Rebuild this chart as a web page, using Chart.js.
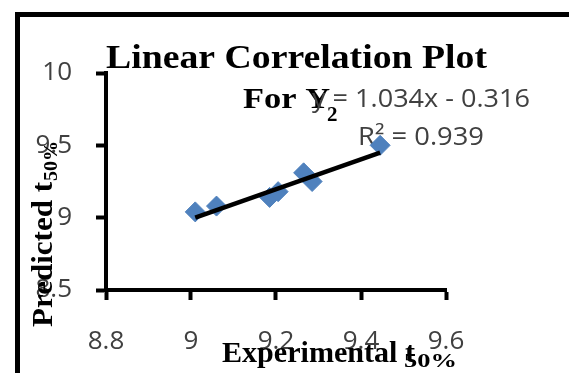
<!DOCTYPE html>
<html>
<head>
<meta charset="utf-8">
<script src="https://cdn.jsdelivr.net/npm/chart.js@4.4.1/dist/chart.umd.min.js"></script>
<style>
  html, body { margin: 0; padding: 0; background: #fff; }
  #wrap { width: 569px; height: 373px; }
</style>
</head>
<body>
<div id="wrap"><canvas id="corrChart" width="569" height="373"></canvas></div>
<script>
// values
const experimental = [9.01, 9.06, 9.185, 9.205, 9.265, 9.285, 9.445];
const predicted = [9.04, 9.08, 9.14, 9.18, 9.31, 9.25, 9.50];
const xTicks = [8.8, 9, 9.2, 9.4, 9.6];
const yTicks = [8.5, 9, 9.5, 10];
const slope = 1.034;
const intercept = -0.316;
const rSquared = 0.939;

const points = experimental.map((x, i) => ({ x: x, y: predicted[i] }));
const xMin = Math.min(...experimental);
const xMax = Math.max(...experimental);
const trend = [xMin, xMax].map(x => ({ x: x, y: slope * x + intercept }));

const serif = "'Liberation Serif', 'Times New Roman', serif";
const sans = "'Open Sans', 'DejaVu Sans', sans-serif";
const grey = '#404040';

// helper: text squeezed/stretched to a given width
function fitText(ctx, text, x, y, width) {
    const w = ctx.measureText(text).width;
    ctx.save();
    ctx.translate(x, y);
    ctx.scale(width / w, 1);
    ctx.fillText(text, 0, 0);
    ctx.restore();
}

const textPlugin = {
    id: 'textBits',
    beforeDraw(chart) {
        const ctx = chart.ctx;
        ctx.save();
        // outer frame (cut at the right and bottom)
        ctx.fillStyle = '#000';
        ctx.fillRect(15, 12, 5, 361);
        ctx.fillRect(15, 12, 554, 5);
        ctx.restore();
    },
    beforeDatasetsDraw(chart) {
        const ctx = chart.ctx;
        ctx.save();
        ctx.fillStyle = '#000';
        ctx.textBaseline = 'alphabetic';
        ctx.textAlign = 'left';
        ctx.font = 'bold 34px ' + serif;
        fitText(ctx, 'Linear Correlation Plot', 106, 68, 381);
        ctx.font = 'bold 30px ' + serif;
        fitText(ctx, 'For Y', 243, 108, 87);
        ctx.font = 'bold 21px ' + serif;
        ctx.fillText('2', 327, 121);

        // trendline label
        ctx.fillStyle = grey;
        ctx.font = '25px ' + sans;
        const eq = 'y = ' + slope.toFixed(3) + 'x - ' + Math.abs(intercept).toFixed(3);
        fitText(ctx, eq, 312, 107, 218);
        fitText(ctx, 'R² = ' + rSquared.toFixed(3), 358, 145, 126);
        ctx.restore();
    },
    afterDraw(chart) {
        const ctx = chart.ctx;
        ctx.save();
        ctx.fillStyle = '#000';
        ctx.textAlign = 'left';
        ctx.textBaseline = 'alphabetic';
        // x axis title
        ctx.font = 'bold 29px ' + serif;
        fitText(ctx, 'Experimental t', 222, 362, 193);
        ctx.font = 'bold 19px ' + serif;
        fitText(ctx, '50%', 404, 367, 53);
        // y axis title
        ctx.translate(52, 327);
        ctx.rotate(-Math.PI / 2);
        ctx.font = 'bold 29px ' + serif;
        fitText(ctx, 'Predicted t', 0, 0, 145);
        ctx.font = 'bold 19px ' + serif;
        fitText(ctx, '50%', 146, 5, 40);
        ctx.restore();
    }
};

const ctx = document.getElementById('corrChart').getContext('2d');
new Chart(ctx, {
    type: 'scatter',
    data: {
        datasets: [{
            label: 'Predicted',
            data: points,
            pointStyle: 'rectRot',
            pointRadius: 10,
            pointHoverRadius: 10,
            backgroundColor: '#4F81BD',
            borderColor: '#4F81BD',
            borderWidth: 1
        }, {
            label: 'Linear',
            type: 'line',
            data: trend,
            borderColor: '#000',
            borderWidth: 4.5,
            pointRadius: 0,
            fill: false,
            order: -1
        }]
    },
    options: {
        responsive: false,
        animation: false,
        devicePixelRatio: 1,
        layout: { padding: { left: 0, top: 73, right: 123, bottom: 0 } },
        plugins: {
            legend: { display: false },
            tooltip: { enabled: false },
            title: { display: false }
        },
        scales: {
            x: {
                type: 'linear',
                min: xTicks[0],
                max: xTicks[xTicks.length - 1],
                afterBuildTicks: (scale) => { scale.ticks = xTicks.map(v => ({ value: v })); },
                afterFit: (scale) => { scale.height = 83; },
                ticks: {
                    color: grey,
                    font: { family: sans, size: 26 },
                    padding: 26,
                    maxRotation: 0,
                    callback: (v) => String(v)
                },
                grid: {
                    drawOnChartArea: false,
                    tickLength: 10,
                    tickColor: '#000',
                    tickWidth: 4
                },
                border: { color: '#000', width: 4 }
            },
            y: {
                type: 'linear',
                min: yTicks[0],
                max: yTicks[yTicks.length - 1],
                afterBuildTicks: (scale) => { scale.ticks = yTicks.map(v => ({ value: v })); },
                afterFit: (scale) => { scale.width = 106; },
                ticks: {
                    color: grey,
                    font: { family: sans, size: 26 },
                    padding: 24,
                    callback: (v) => String(v)
                },
                grid: {
                    drawOnChartArea: false,
                    tickLength: 10,
                    tickColor: '#000',
                    tickWidth: 4
                },
                border: { color: '#000', width: 4 }
            }
        }
    },
    plugins: [textPlugin]
});
</script>
</body>
</html>
